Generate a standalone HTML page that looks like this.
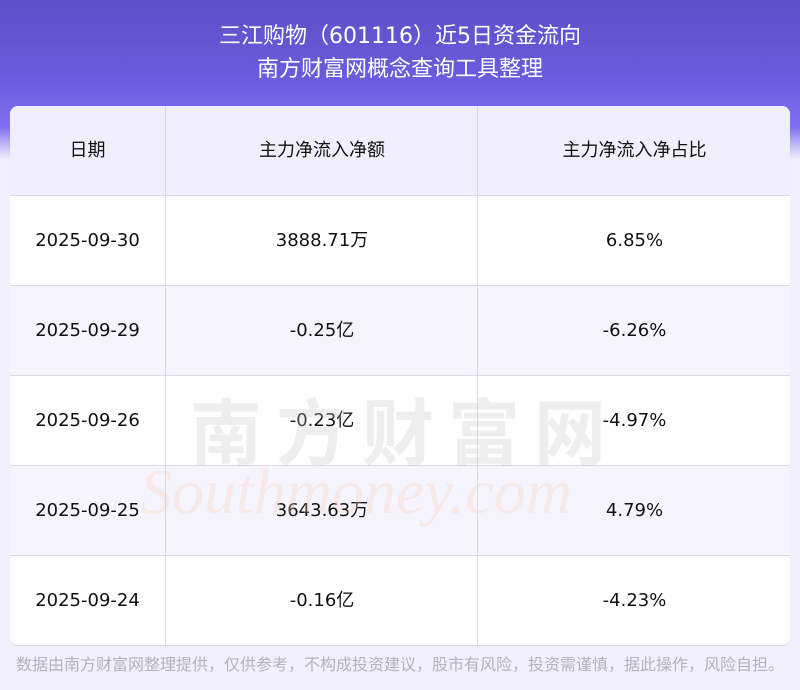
<!DOCTYPE html>
<html><head><meta charset="utf-8"><style>
body{margin:0;width:800px;height:690px;background:#f2f0fd;font-family:"DejaVu Sans","Noto Sans CJK SC",sans-serif;position:relative;overflow:hidden}
.top{position:absolute;left:0;top:0;width:800px;height:160px;background:linear-gradient(180deg,#5d4fc4 0%,#6b5ce0 50%,#8070f0 80%,#c9c2f8 92%,#f2f0fd 100%)}
.title{position:absolute;top:20px;left:0;width:800px;text-align:center;color:#fff;font-size:22px;line-height:33px}
.tbl{position:absolute;left:10px;top:106px;width:780px;height:539px;border-radius:8px;overflow:hidden;background:#fff;border-bottom:1px solid #d6d0ee}
.row{position:absolute;left:0;width:780px;height:89px;border-bottom:1px solid #dcd8ec;font-size:18px;color:#111}
.row div{position:absolute;top:0;height:89px;line-height:89px;text-align:center}
.c1{left:0;width:155px}.c2{left:155px;width:312px;border-left:1px solid #dcd8ec}.c3{left:467px;width:313px;border-left:1px solid #dcd8ec}
.foot{position:absolute;top:651px;left:16px;font-size:16px;color:#b4b2c0;font-family:"Noto Sans CJK SC",sans-serif}
.wm{position:absolute;left:190px;top:375px;font-size:72px;color:rgba(200,200,200,0.3);letter-spacing:14px;font-weight:bold;font-family:"Noto Sans CJK SC",sans-serif}
.wm2{position:absolute;left:140px;top:455px;font-size:64px;color:rgba(250,210,180,0.3);font-family:"Liberation Serif",serif;font-style:italic}
</style></head><body>
<div class="top"></div>
<div class="title">三江购物（601116）近5日资金流向<br>南方财富网概念查询工具整理</div>
<div class="tbl">
<div class="row" style="top:0;background:#f1effd"><div class="c1">日期</div><div class="c2">主力净流入净额</div><div class="c3">主力净流入净占比</div></div>
<div class="row" style="top:90px;background:#fff"><div class="c1">2025-09-30</div><div class="c2">3888.71万</div><div class="c3">6.85%</div></div>
<div class="row" style="top:180px;background:#f6f4ff"><div class="c1">2025-09-29</div><div class="c2">-0.25亿</div><div class="c3">-6.26%</div></div>
<div class="row" style="top:270px;background:#fff"><div class="c1">2025-09-26</div><div class="c2">-0.23亿</div><div class="c3">-4.97%</div></div>
<div class="row" style="top:360px;background:#f6f4ff"><div class="c1">2025-09-25</div><div class="c2">3643.63万</div><div class="c3">4.79%</div></div>
<div class="row" style="top:450px;background:#fff;border-bottom:none"><div class="c1">2025-09-24</div><div class="c2">-0.16亿</div><div class="c3">-4.23%</div></div>
</div>
<div class="wm">南方财富网</div>
<div class="wm2">Southmoney.com</div>
<div class="foot">数据由南方财富网整理提供，仅供参考，不构成投资建议，股市有风险，投资需谨慎，据此操作，风险自担。</div>
</body></html>
